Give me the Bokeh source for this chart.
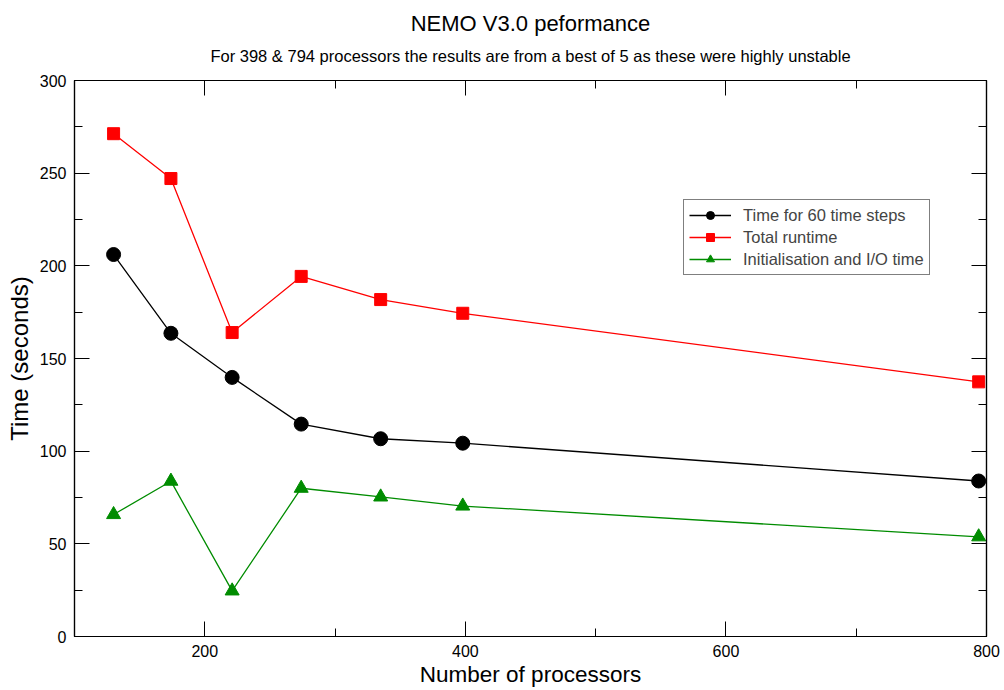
from bokeh.plotting import figure
from bokeh.models import (Range1d, SingleIntervalTicker, LinearAxis, Title, Legend, LegendItem,
                          CustomLabelingPolicy, CustomJSTickFormatter)
from bokeh.embed import file_html
from bokeh.resources import INLINE

procs = [130, 174, 221, 274, 335, 398, 794]
step_time = [206.1, 163.6, 139.8, 114.6, 106.7, 104.3, 83.9]
total_time = [271.3, 247.1, 164.0, 194.3, 181.8, 174.4, 137.4]
init_time = [65.8, 83.8, 24.6, 80.0, 75.3, 70.4, 53.8]

series_names = ["Time for 60 time steps", "Total runtime", "Initialisation and I/O time"]
title_text = "NEMO V3.0 peformance"
subtitle_text = "For 398 & 794 processors the results are from a best of 5 as these were highly unstable"

FONT = "Liberation Sans"

p = figure(width=1004, height=690, output_backend="svg", toolbar_location=None,
           x_range=Range1d(100, 800), y_range=Range1d(0, 300),
           min_border_left=74, min_border_right=18, min_border_top=80, min_border_bottom=54,
           title=None)
p.background_fill_color = "white"
p.border_fill_color = "white"
p.outline_line_color = "black"
p.outline_line_width = 1.2
p.xgrid.visible = False
p.ygrid.visible = False

hide_all = CustomLabelingPolicy(code="""
const arr = [...indices]
for (const i of arr) indices.unset(i)
return indices
""")

def style_axis(ax, show_labels=True):
    ax.axis_line_color = "black"
    ax.axis_line_width = 1.2
    ax.major_tick_in = 15
    ax.major_tick_out = 0
    ax.minor_tick_in = 8
    ax.minor_tick_out = 0
    ax.major_tick_line_color = "black"
    ax.minor_tick_line_color = "black"
    ax.major_label_text_font = FONT
    ax.major_label_text_font_size = "16px"
    ax.major_label_text_color = "black"
    ax.major_label_standoff = 8
    ax.axis_label_text_font = FONT
    ax.axis_label_text_font_style = "normal"
    ax.axis_label_text_color = "black"
    if not show_labels:
        ax.major_label_policy = hide_all
        ax.major_label_standoff = 0

xt = SingleIntervalTicker(interval=200, num_minor_ticks=2)
yt = SingleIntervalTicker(interval=50, num_minor_ticks=2)
p.xaxis.ticker = xt
p.yaxis.ticker = yt
style_axis(p.xaxis[0])
style_axis(p.yaxis[0])
p.xaxis.axis_label = "Number of processors"
p.yaxis.axis_label = "Time (seconds)"
p.xaxis.axis_label_text_font_size = "22.5px"
p.yaxis.axis_label_text_font_size = "24px"
p.xaxis.axis_label_standoff = 2
p.yaxis.axis_label_standoff = 4

top = LinearAxis(ticker=SingleIntervalTicker(interval=200, num_minor_ticks=2))
style_axis(top, False)
right = LinearAxis(ticker=SingleIntervalTicker(interval=50, num_minor_ticks=2),
                   formatter=CustomJSTickFormatter(code="return ''"))
style_axis(right, False)
p.add_layout(top, "above")
p.add_layout(right, "right")

p.add_layout(Title(text=subtitle_text, align="center", text_font=FONT, text_font_size="16.5px",
                   text_font_style="normal", text_color="black", standoff=2), "above")
p.add_layout(Title(text=title_text, align="center", text_font=FONT, text_font_size="22px",
                   text_font_style="normal", text_color="black", standoff=16), "above")

green = "#008c00"
l1 = p.line(procs, step_time, line_color="black", line_width=1.3)
s1 = p.scatter(procs, step_time, marker="circle", size=14, fill_color="black", line_color="black")
l2 = p.line(procs, total_time, line_color="#ff0000", line_width=1.3)
s2 = p.scatter(procs, total_time, marker="square", size=12, fill_color="#ff0000", line_color="#ff0000")
l3 = p.line(procs, init_time, line_color=green, line_width=1.3)
s3 = p.scatter(procs, init_time, marker="triangle", size=14, fill_color=green, line_color=green)

legend = Legend(items=[LegendItem(label=series_names[0], renderers=[l1, s1]),
                       LegendItem(label=series_names[1], renderers=[l2, s2]),
                       LegendItem(label=series_names[2], renderers=[l3, s3])],
                location=(609, 361))
legend.border_line_color = "black"
legend.border_line_width = 1
legend.background_fill_color = "white"
legend.background_fill_alpha = 1
legend.label_text_font = FONT
legend.label_text_font_size = "16.5px"
legend.glyph_width = 42
legend.glyph_height = 20
legend.spacing = 2
legend.padding = 5
legend.margin = 0
legend.label_standoff = 12
legend.label_width = 175
p.add_layout(legend)

open("out.html", "w").write(file_html(p, INLINE))
